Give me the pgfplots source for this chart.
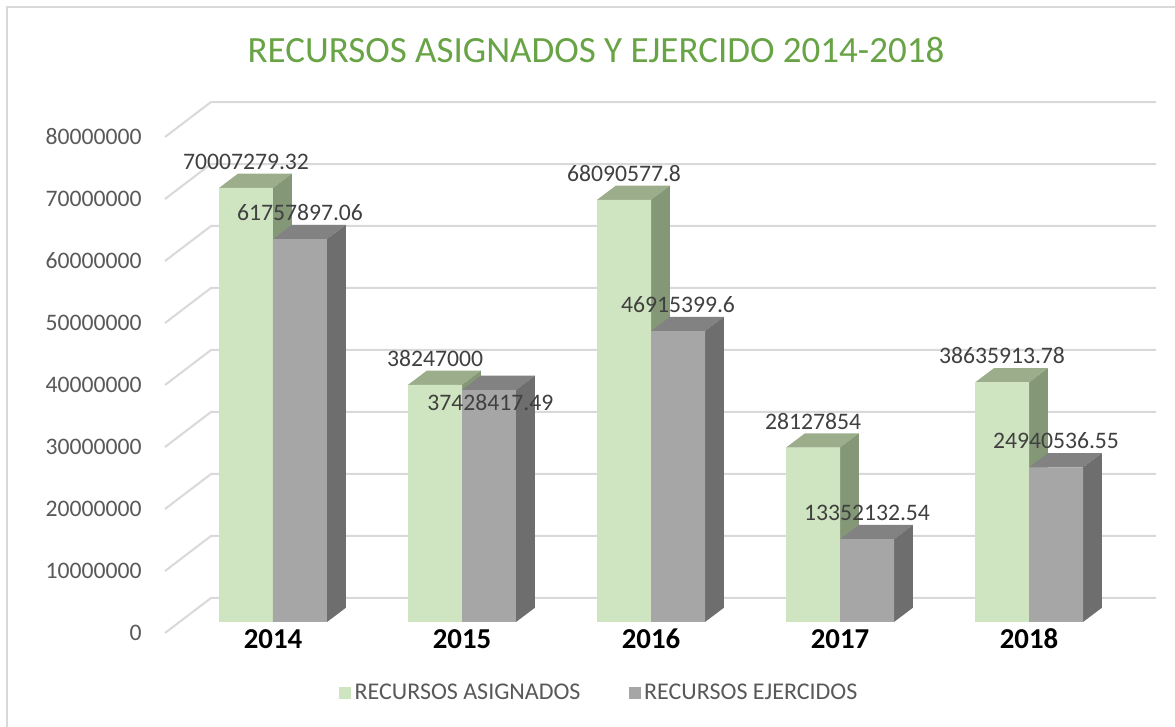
\documentclass[border=0pt]{standalone}
\usepackage{pgfplots}
\pgfplotsset{compat=1.18}
\usepackage{fontspec}
\setmainfont{Carlito}
\definecolor{gfront}{HTML}{CFE4C0}
\definecolor{gtop}{HTML}{9CAD8C}
\definecolor{gside}{HTML}{849877}
\definecolor{rfront}{HTML}{A6A6A6}
\definecolor{rtop}{HTML}{828282}
\definecolor{rside}{HTML}{6E6E6E}
\definecolor{gridc}{HTML}{D9D9D9}
\definecolor{tickc}{HTML}{595959}
\definecolor{labc}{HTML}{404040}
\definecolor{titlec}{HTML}{68A446}
\pgfplotsset{sqlegend/.style={legend image code/.code={\fill[##1] (0pt,-3.6pt) rectangle (7.2pt,3.6pt);}}}
\newcommand\threedbar[4]{%
  \pgfmathsetmacro\xa{#1}%
  \pgfmathsetmacro\xb{#1+0.2857}%
  \pgfmathsetmacro\xc{#1+0.3857}%
  \pgfmathsetmacro\xd{#1+0.1}%
  \pgfmathsetmacro\yt{#2+2.3}%
  \edef\temp{\noexpand\addplot[fill=#3,draw=none,forget plot] coordinates {(\xa,#2) (\xb,#2) (\xc,\yt) (\xd,\yt)};
  \noexpand\addplot[fill=#4,draw=none,forget plot] coordinates {(\xb,0) (\xc,2.3) (\xc,\yt) (\xb,#2)};}%
  \temp}
\begin{document}
\begin{tikzpicture}
\useasboundingbox (0,0) rectangle (705pt,436.2pt);
\fill[white] (0,0) rectangle (705pt,436.2pt);
\draw[gridc, line width=1.2pt] (3.9pt,0) -- (3.9pt,432pt) -- (705pt,432pt);
\node[text=titlec, font=\fontsize{22.2}{26}\selectfont] at (357.6pt,406.2pt) {RECURSOS ASIGNADOS Y EJERCIDO 2014-2018};
\begin{axis}[
  at={(90.09pt,51.84pt)}, anchor=south west,
  scale only axis, width=606.69pt, height=331.08pt,
  xmin=-0.65, xmax=4.7, ymin=-3, ymax=86,
  clip=false,
  axis line style={draw=none},
  major tick length=0pt,
  tick style={draw=none},
  xtick={0,1,2,3,4},
  xticklabels={2014,2015,2016,2017,2018},
  xticklabel style={anchor=center, yshift=1pt, font=\fontsize{17.3}{20}\selectfont\bfseries, text=black},
  ytick={-1.774,8.226,18.226,28.226,38.226,48.226,58.226,68.226,78.226},
  yticklabels={0,10000000,20000000,30000000,40000000,50000000,60000000,70000000,80000000},
  yticklabel style={anchor=east, inner sep=0pt, xshift=-4.9pt, font=\fontsize{14.2}{17}\selectfont, text=tickc},
  legend style={at={(0.4449,-0.095)}, anchor=center, draw=none, fill=none,
    font=\fontsize{14.4}{17}\selectfont, text=tickc,
    /tikz/every even column/.append style={column sep=27pt}},
  legend columns=2,
  nodes near coords style={anchor=center, font=\fontsize{14.2}{17}\selectfont, text=labc},
]
% gridlines
\addplot[gridc, line width=1.2pt, forget plot] coordinates {(-0.5714,-1.774) (-0.328,3.871) (4.672,3.871)};
\addplot[gridc, line width=1.2pt, forget plot] coordinates {(-0.5714,8.226) (-0.328,13.871) (4.672,13.871)};
\addplot[gridc, line width=1.2pt, forget plot] coordinates {(-0.5714,18.226) (-0.328,23.871) (4.672,23.871)};
\addplot[gridc, line width=1.2pt, forget plot] coordinates {(-0.5714,28.226) (-0.328,33.871) (4.672,33.871)};
\addplot[gridc, line width=1.2pt, forget plot] coordinates {(-0.5714,38.226) (-0.328,43.871) (4.672,43.871)};
\addplot[gridc, line width=1.2pt, forget plot] coordinates {(-0.5714,48.226) (-0.328,53.871) (4.672,53.871)};
\addplot[gridc, line width=1.2pt, forget plot] coordinates {(-0.5714,58.226) (-0.328,63.871) (4.672,63.871)};
\addplot[gridc, line width=1.2pt, forget plot] coordinates {(-0.5714,68.226) (-0.328,73.871) (4.672,73.871)};
\addplot[gridc, line width=1.2pt, forget plot] coordinates {(-0.5714,78.226) (-0.328,83.871) (4.672,83.871)};
% green 3D faces
\threedbar{-0.2857}{70.00727932}{gtop}{gside}
\threedbar{0.7143}{38.247}{gtop}{gside}
\threedbar{1.7143}{68.0905778}{gtop}{gside}
\threedbar{2.7143}{28.127854}{gtop}{gside}
\threedbar{3.7143}{38.63591378}{gtop}{gside}
% green fronts
\addplot[ybar, bar width=0.2857, bar shift=-0.14285, fill=gfront, draw=none, forget plot,
  nodes near coords, point meta=explicit symbolic,
  every node near coord/.append style={xshift=-16.2pt, yshift=15.9pt}] coordinates {
  (0,70.00727932) [70007279.32]
  (1,38.247) [38247000]
  (2,68.0905778) [68090577.8]
  (3,28.127854) [28127854]
  (4,38.63591378) [38635913.78]
};
% gray 3D faces
\threedbar{0}{61.75789706}{rtop}{rside}
\threedbar{1}{37.42841749}{rtop}{rside}
\threedbar{2}{46.9153996}{rtop}{rside}
\threedbar{3}{13.35213254}{rtop}{rside}
\threedbar{4}{24.94053655}{rtop}{rside}
% gray fronts
\addplot[ybar, bar width=0.2857, bar shift=0.14285, fill=rfront, draw=none, forget plot,
  nodes near coords, point meta=explicit symbolic,
  every node near coord/.append style={xshift=16.2pt, yshift=15.9pt}] coordinates {
  (0,61.75789706) [61757897.06]
  (2,46.9153996) [46915399.6]
  (3,13.35213254) [13352132.54]
  (4,24.94053655) [24940536.55]
};
\addplot[ybar, bar width=0.2857, bar shift=0.14285, fill=rfront, draw=none, forget plot,
  nodes near coords, point meta=explicit symbolic,
  every node near coord/.append style={xshift=17pt, yshift=-7.8pt}] coordinates {
  (1,37.42841749) [37428417.49]
};
\addlegendimage{sqlegend, fill=gfront, draw=none}
\addlegendentry{RECURSOS ASIGNADOS}
\addlegendimage{sqlegend, fill=rfront, draw=none}
\addlegendentry{RECURSOS EJERCIDOS}
\end{axis}
\end{tikzpicture}
\end{document}
